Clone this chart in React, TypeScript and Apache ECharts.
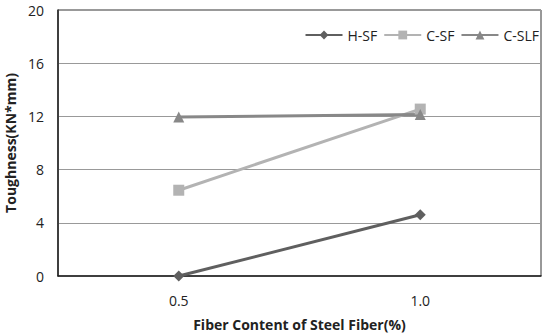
import React, { useEffect, useRef } from "react";
import * as echarts from "echarts";

const categories = ["0.5", "1.0"];
const hsf = [0, 4.6];
const csf = [6.45, 12.55];
const cslf = [11.95, 12.15];
const yTicks = [0, 4, 8, 12, 16, 20];

export default function App() {
  const ref = useRef<HTMLDivElement>(null);
  useEffect(() => {
    const chart = echarts.init(ref.current!, null, { renderer: "svg" });
    const font = "'Open Sans', 'Noto Sans', sans-serif";
    chart.setOption({
      animation: false,
      backgroundColor: "#fff",
      textStyle: { fontFamily: font },
      grid: {
        left: 58,
        right: 9,
        top: 10,
        bottom: 60,
        outerBoundsMode: "none",
        containLabel: false,
        show: true,
        borderColor: "#333",
        borderWidth: 1,
      },
      legend: {
        top: 23,
        right: 6,
        itemWidth: 37,
        itemHeight: 11,
        itemGap: 6,
        textStyle: { color: "#222", fontSize: 14, fontFamily: font },
        data: ["H-SF", "C-SF", "C-SLF"],
      },
      xAxis: {
        type: "category",
        data: categories,
        boundaryGap: true,
        axisLine: { lineStyle: { color: "#222", width: 1.5 } },
        axisTick: { show: false },
        axisLabel: { color: "#222", fontSize: 14, margin: 17, fontFamily: font },
        name: "Fiber Content of Steel Fiber(%)",
        nameLocation: "middle",
        nameGap: 41,
        nameTextStyle: { color: "#222", fontSize: 14, fontWeight: "bold", fontFamily: font },
      },
      yAxis: {
        type: "value",
        min: yTicks[0],
        max: yTicks[yTicks.length - 1],
        interval: 4,
        axisLine: { show: true, lineStyle: { color: "#222", width: 1.5 } },
        axisTick: { show: false },
        splitLine: { lineStyle: { color: "#999", width: 1 } },
        axisLabel: { color: "#222", fontSize: 14, margin: 14, fontFamily: font },
        name: "Toughness(KN*mm)",
        nameLocation: "middle",
        nameGap: 38,
        nameTextStyle: { color: "#222", fontSize: 14, fontWeight: "bold", fontFamily: font },
      },
      series: [
        {
          name: "H-SF",
          type: "line",
          data: hsf,
          symbol: "diamond",
          symbolSize: 11,
          lineStyle: { color: "#5f5f5f", width: 3 },
          itemStyle: { color: "#5f5f5f" },
        },
        {
          name: "C-SF",
          type: "line",
          data: csf,
          symbol: "rect",
          symbolSize: 11,
          lineStyle: { color: "#b3b3b3", width: 3 },
          itemStyle: { color: "#b3b3b3" },
        },
        {
          name: "C-SLF",
          type: "line",
          data: cslf,
          symbol: "triangle",
          symbolSize: 11,
          lineStyle: { color: "#888888", width: 3 },
          itemStyle: { color: "#888888" },
        },
      ],
    });
    return () => chart.dispose();
  }, []);
  return <div ref={ref} style={{ width: 550, height: 336, position: "absolute", left: 0, top: 0 }} />;
}
